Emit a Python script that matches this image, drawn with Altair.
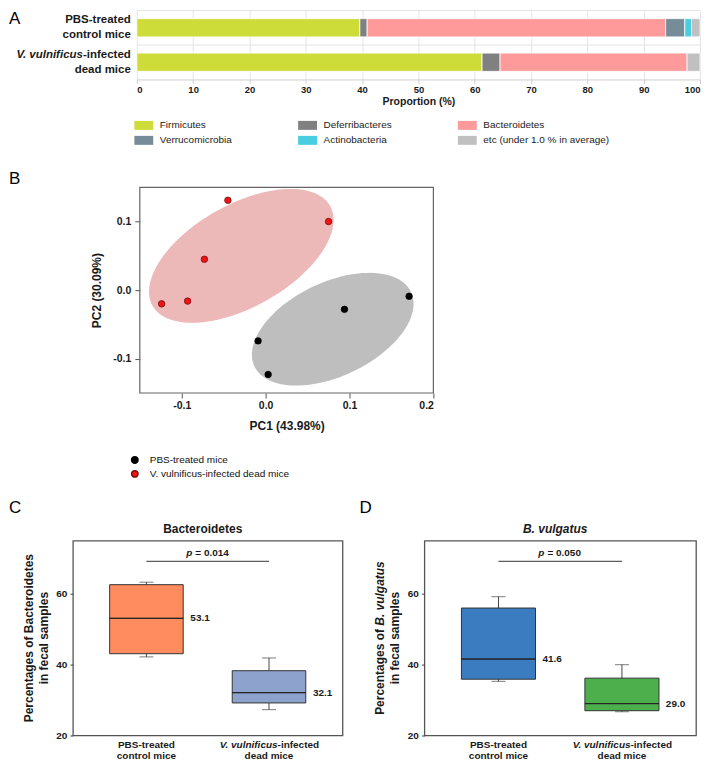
import altair as alt
import numpy as np
import pandas as pd

FONT = "Liberation Sans"
INK = "#1a1a1a"

# ---------------- Panel A : phylum composition ----------------
A_GROUPS = ["PBS-treated control mice", "V. vulnificus-infected dead mice"]
# stacking order along the bar
A_PHYLA = ["Firmicutes", "Deferribacteres", "Bacteroidetes",
           "Verrucomicrobia", "Actinobacteria", "etc (under 1.0 % in average)"]
A_COLORS = ["#CEDC3A", "#808080", "#FE9A9A", "#768D99", "#48CEE0", "#C0C0C0"]
A_PBS = [39.6, 1.3, 53.0, 3.4, 1.2, 1.5]
A_VV = [61.3, 3.2, 33.2, 0.0, 0.0, 2.3]
A_TICKS = [0, 10, 20, 30, 40, 50, 60, 70, 80, 90, 100]
# legend reading order (legend fills column by column, two rows)
A_LEGEND_ORDER = [0, 3, 1, 4, 2, 5]

# ---------------- Panel B : PCoA ----------------
B_GROUPS = ["PBS-treated mice", "V. vulnificus-infected dead mice"]
B_COLORS = ["#000000", "#F01414"]
B_EDGES = ["#000000", "#7A0A0A"]
B_PBS_PC1 = [0.171, 0.094, -0.009, 0.003]
B_PBS_PC2 = [-0.009, -0.028, -0.074, -0.123]
B_VV_PC1 = [-0.045, 0.075, -0.073, -0.093, -0.124]
B_VV_PC2 = [0.131, 0.100, 0.045, -0.016, -0.020]
B_XTICKS = [-0.1, 0.0, 0.1, 0.2]
B_YTICKS = [-0.1, 0.0, 0.1]
# group ellipses: centre (data units), semi-axes (screen px) and tilt (deg)
B_ELL_CX = [0.080, -0.029]
B_ELL_CY = [-0.057, 0.050]
B_ELL_A = [86.8, 102.0]
B_ELL_B = [47.0, 51.3]
B_ELL_ANGLE = [25.4, 29.3]
B_ELL_COLORS = ["#BEBEBE", "#EDB8B8"]

# ---------------- Panels C / D : box plots ----------------
BOX_CATS = ["PBS", "VV"]
C_LOW = [42.2, 27.3]
C_Q1 = [43.1, 29.2]
C_MED = [53.1, 32.1]
C_Q3 = [62.6, 38.3]
C_HIGH = [63.3, 41.9]
C_COLORS = ["#FF8C5E", "#8EA2CE"]
C_P = "0.014"

D_LOW = [35.3, 26.7]
D_Q1 = [35.9, 27.0]
D_MED = [41.6, 29.0]
D_Q3 = [56.0, 36.2]
D_HIGH = [59.2, 40.0]
D_COLORS = ["#3A7CBF", "#4CAF4C"]
D_P = "0.050"

P_LINE_Y = 69.2
BOX_YTICKS = [20, 30, 40, 50, 60, 70]

LETTER_X = -64  # panel letters sit at the left edge of the figure


def letter(ch, x, y):
    return alt.Chart(pd.DataFrame({"t": [ch]})).mark_text(
        align="left", baseline="top", font=FONT, fontSize=17, color="#000"
    ).encode(text="t:N", x=alt.value(x), y=alt.value(y))


# ======================= Panel A =======================
A_OFF, A_W, A_H = 64, 564, 69
rows = []
for g, vals in zip(A_GROUPS, [A_PBS, A_VV]):
    for k, (p, v) in enumerate(zip(A_PHYLA, vals)):
        rows.append({"group": g, "phylum": p, "value": v, "k": k})
a_df = pd.DataFrame(rows)
leg_dom = [A_PHYLA[i] for i in A_LEGEND_ORDER]
leg_rng = [A_COLORS[i] for i in A_LEGEND_ORDER]
a_xscale = alt.Scale(domain=[0, 100], nice=False, range=[A_OFF, A_OFF + A_W])

a_y_bars = alt.Y(
    "group:N", sort=A_GROUPS,
    scale=alt.Scale(paddingInner=0, paddingOuter=0),
    axis=alt.Axis(labels=False, title=None, grid=False, offset=-A_OFF,
                  domainColor="#CFCFCF", tickColor="#CFCFCF", tickSize=4),
)
a_y_txt = alt.Y("group:N", sort=A_GROUPS, axis=None)

a_grid = alt.Chart(pd.DataFrame({"group": A_GROUPS})).mark_rule(
    color="#E4E4E4", strokeWidth=1).encode(
    y=alt.Y("group:N", sort=A_GROUPS, axis=None, bandPosition=0),
    x=alt.datum(0, scale=a_xscale), x2=alt.datum(100))

a_bars = alt.Chart(a_df).transform_filter("datum.value > 0").mark_bar(
    height={"band": 0.53}, stroke="white", strokeWidth=0.8
).encode(
    x=alt.X("value:Q", stack="zero", scale=a_xscale,
            axis=alt.Axis(values=A_TICKS, grid=True, gridColor="#E4E4E4",
                          domainColor="#CFCFCF", tickColor="#CFCFCF", tickSize=4,
                          labelFont=FONT, labelFontSize=9.5, labelFontWeight="bold",
                          labelColor=INK, labelPadding=1,
                          title="Proportion (%)", titleFont=FONT, titleFontSize=10.5,
                          titleFontWeight="bold", titleColor=INK, titlePadding=3)),
    y=a_y_bars,
    color=alt.Color(
        "phylum:N",
        scale=alt.Scale(domain=leg_dom, range=leg_rng),
        legend=alt.Legend(title=None, orient="none", legendX=A_OFF + 2, legendY=110,
                          columns=3, columnPadding=65, rowPadding=5,
                          symbolType="M-2.1,-1L2.1,-1L2.1,1L-2.1,1Z",
                          symbolSize=81, symbolStrokeWidth=0,
                          labelFont=FONT, labelFontSize=10, labelColor="#222",
                          labelOffset=11, labelLimit=260),
    ),
    order=alt.Order("k:Q"),
)

a_lab_df1 = pd.DataFrame({"group": A_GROUPS, "t": ["PBS-treated", "-infected"]})
a_lab_df1i = pd.DataFrame({"group": [A_GROUPS[1]], "t": ["V. vulnificus"]})
a_lab_df2 = pd.DataFrame({"group": A_GROUPS, "t": ["control mice", "dead mice"]})
a_txt_style = dict(font=FONT, fontSize=11.5, fontWeight="bold", color=INK,
                   baseline="middle", align="right")
a_lab1 = alt.Chart(a_lab_df1).mark_text(dy=-7.5, **a_txt_style).encode(
    y=a_y_txt, x=alt.value(A_OFF - 6), text="t:N")
a_lab1i = alt.Chart(a_lab_df1i).mark_text(dy=-7.5, fontStyle="italic", **a_txt_style).encode(
    y=a_y_txt, x=alt.value(A_OFF - 54), text="t:N")
a_lab2 = alt.Chart(a_lab_df2).mark_text(dy=7.5, **a_txt_style).encode(
    y=a_y_txt, x=alt.value(A_OFF - 6), text="t:N")

panel_a = alt.layer(a_grid, a_bars, a_lab1, a_lab1i, a_lab2,
                    letter("A", LETTER_X, 0)).properties(
    width=A_OFF + A_W, height=A_H, view=alt.ViewBackground(stroke="transparent"))

# ======================= Panel B =======================
B_OFF, B_W, B_H = 67, 294, 206
B_XDOM = [-0.15, 0.2]
B_YDOM = [-0.15, 0.15]
pts = pd.DataFrame({
    "grp": [B_GROUPS[0]] * len(B_PBS_PC1) + [B_GROUPS[1]] * len(B_VV_PC1),
    "pc1": B_PBS_PC1 + B_VV_PC1,
    "pc2": B_PBS_PC2 + B_VV_PC2,
})

xs_per_px = (B_XDOM[1] - B_XDOM[0]) / B_W
ys_per_px = (B_YDOM[1] - B_YDOM[0]) / B_H
tt = np.linspace(0, 2 * np.pi, 121)[:-1]
ell_frames = []
for i in range(len(B_ELL_CX)):
    phi = np.deg2rad(B_ELL_ANGLE[i])
    dx = B_ELL_A[i] * np.cos(tt) * np.cos(phi) - B_ELL_B[i] * np.sin(tt) * np.sin(phi)
    dy = B_ELL_A[i] * np.cos(tt) * np.sin(phi) + B_ELL_B[i] * np.sin(tt) * np.cos(phi)
    ell_frames.append(pd.DataFrame({
        "i": np.arange(len(tt)),
        "ex": B_ELL_CX[i] + dx * xs_per_px,
        "ey": B_ELL_CY[i] + dy * ys_per_px,
    }))

b_xscale = alt.Scale(domain=B_XDOM, nice=False, zero=False, range=[B_OFF, B_OFF + B_W])
b_yscale = alt.Scale(domain=B_YDOM, nice=False, zero=False)
label_fix = "replace(datum.label, '\u2212', '-')"
b_x = alt.X("pc1:Q", scale=b_xscale,
            axis=alt.Axis(values=B_XTICKS, format=".1f", labelExpr=label_fix,
                          title="PC1 (43.98%)", grid=False, domain=False,
                          tickSize=5, tickColor="#555",
                          labelFont=FONT, labelFontSize=10.5, labelFontWeight="bold",
                          labelColor=INK, labelPadding=3,
                          titleFont=FONT, titleFontSize=12, titleFontWeight="bold",
                          titleColor=INK, titlePadding=9))
b_y = alt.Y("pc2:Q", scale=b_yscale,
            axis=alt.Axis(values=B_YTICKS, format=".1f", labelExpr=label_fix,
                          title="PC2 (30.09%)", grid=False, domain=False,
                          offset=-B_OFF, tickSize=5, tickColor="#555",
                          labelFont=FONT, labelFontSize=10.5, labelFontWeight="bold",
                          labelColor=INK, labelPadding=4,
                          titleFont=FONT, titleFontSize=12, titleFontWeight="bold",
                          titleColor=INK, titlePadding=9))

ell_layers = []
for i, fr in enumerate(ell_frames):
    ell_layers.append(
        alt.Chart(fr).mark_line(filled=True, color=B_ELL_COLORS[i],
                                interpolate="linear-closed", strokeWidth=0).encode(
            x=alt.X("ex:Q", scale=b_xscale),
            y=alt.Y("ey:Q", scale=b_yscale),
            order="i:Q",
        )
    )

b_frame = alt.Chart(pd.DataFrame({"k": [0]})).mark_rect(
    fill="transparent", stroke="#666", strokeWidth=1.2).encode(
    x=alt.datum(B_XDOM[0], scale=b_xscale), x2=alt.datum(B_XDOM[1]),
    y=alt.datum(B_YDOM[0], scale=b_yscale), y2=alt.datum(B_YDOM[1]))

b_pts = alt.Chart(pts).mark_point(filled=True, size=42, strokeWidth=0.8, opacity=1).encode(
    x=b_x, y=b_y,
    color=alt.Color("grp:N", scale=alt.Scale(domain=B_GROUPS, range=B_COLORS),
                    legend=alt.Legend(title=None, orient="none", legendX=B_OFF - 10,
                                      legendY=268,
                                      symbolType="circle", symbolSize=42,
                                      labelFont=FONT, labelFontSize=10, labelColor="#111",
                                      rowPadding=0, labelOffset=10, labelLimit=300)),
    stroke=alt.Stroke("grp:N", scale=alt.Scale(domain=B_GROUPS, range=B_EDGES), legend=None),
)

panel_b = alt.layer(*ell_layers, b_frame, b_pts, letter("B", LETTER_X, -16)).properties(
    width=B_OFF + B_W, height=B_H, view=alt.ViewBackground(stroke="transparent"))


# ======================= Panels C / D =======================
BOX_H = 195


def box_panel(let, let_x, title, title_style, low, q1, med, q3, high, colors, p_txt,
              ytitle_plain, ytitle_italic, width):
    df = pd.DataFrame({"grp": BOX_CATS, "low": low, "q1": q1, "med": med,
                       "q3": q3, "high": high})
    xscale = alt.Scale(domain=BOX_CATS, paddingInner=0.4, paddingOuter=0.3)
    xenc = alt.X("grp:N", sort=BOX_CATS, scale=xscale, axis=None)
    yscale = alt.Scale(domain=[20, 75], nice=False, zero=False)
    yaxis = alt.Axis(values=BOX_YTICKS, title=None, grid=False, domain=False,
                     tickSize=3, tickColor="#444", labelFont=FONT, labelFontSize=10,
                     labelFontWeight="bold", labelColor=INK, labelPadding=3)
    base = alt.Chart(df)
    wh_hi = base.mark_rule(color="#444", strokeWidth=1).encode(
        x=xenc, y=alt.Y("q3:Q", scale=yscale, axis=yaxis), y2="high:Q")
    wh_lo = base.mark_rule(color="#444", strokeWidth=1).encode(
        x=xenc, y=alt.Y("low:Q", scale=yscale), y2="q1:Q")
    cap_hi = base.mark_tick(color="#444", size=14, thickness=1).encode(
        x=xenc, y=alt.Y("high:Q", scale=yscale))
    cap_lo = base.mark_tick(color="#444", size=14, thickness=1).encode(
        x=xenc, y=alt.Y("low:Q", scale=yscale))
    boxes = base.mark_bar(stroke="#333", strokeWidth=1, opacity=1).encode(
        x=xenc, y=alt.Y("q1:Q", scale=yscale), y2="q3:Q",
        color=alt.Color("grp:N", scale=alt.Scale(domain=BOX_CATS, range=colors),
                        legend=None))
    med_line = base.mark_bar(fill="transparent", stroke="#222", strokeWidth=1).encode(
        x=xenc, y=alt.Y("med:Q", scale=yscale), y2=alt.Y2("med:Q"))
    med_txt = base.mark_text(align="left", baseline="middle", dx=44, font=FONT,
                             fontSize=10, fontWeight="bold", color=INK).encode(
        x=xenc, y=alt.Y("med:Q", scale=yscale), text=alt.Text("med:Q", format=".1f"))

    pdf = pd.DataFrame({"a": [BOX_CATS[0]], "b": [BOX_CATS[1]], "y": [P_LINE_Y],
                        "p": ["p"], "v": ["= " + p_txt]})
    xa = alt.X("a:N", sort=BOX_CATS, scale=xscale, axis=None, bandPosition=0.5)
    p_rule = alt.Chart(pdf).mark_rule(color="#333", strokeWidth=1).encode(
        x=xa, x2=alt.X2("b:N", bandPosition=0.5), y=alt.Y("y:Q", scale=yscale))
    p_it = alt.Chart(pdf).mark_text(align="right", baseline="middle", dx=46, dy=-8,
                                    font=FONT, fontSize=10, fontWeight="bold",
                                    fontStyle="italic", color=INK).encode(
        x=xa, y=alt.Y("y:Q", scale=yscale), text="p:N")
    p_val = alt.Chart(pdf).mark_text(align="left", baseline="middle", dx=49, dy=-8,
                                     font=FONT, fontSize=10, fontWeight="bold",
                                     color=INK).encode(
        x=xa, y=alt.Y("y:Q", scale=yscale), text="v:N")

    # x category labels (two lines, partly italic)
    xl_style = dict(font=FONT, fontSize=10, fontWeight="bold", color=INK,
                    baseline="middle")
    xl1 = alt.Chart(pd.DataFrame({"grp": [BOX_CATS[0]], "t": ["PBS-treated"]})).mark_text(
        align="center", **xl_style).encode(x=xenc, y=alt.value(BOX_H + 10), text="t:N")
    xl1b = alt.Chart(pd.DataFrame({"grp": [BOX_CATS[1]], "t": ["-infected"]})).mark_text(
        align="left", dx=8.6, **xl_style).encode(x=xenc, y=alt.value(BOX_H + 10), text="t:N")
    xl1i = alt.Chart(pd.DataFrame({"grp": [BOX_CATS[1]], "t": ["V. vulnificus"]})).mark_text(
        align="right", dx=8.6, fontStyle="italic", **xl_style).encode(
        x=xenc, y=alt.value(BOX_H + 10), text="t:N")
    xl2 = alt.Chart(pd.DataFrame({"grp": BOX_CATS, "t": ["control mice", "dead mice"]})).mark_text(
        align="center", **xl_style).encode(x=xenc, y=alt.value(BOX_H + 21), text="t:N")

    # y title (two lines, rotated, optionally partly italic)
    yt_style = dict(font=FONT, fontSize=12, fontWeight="bold", color=INK,
                    baseline="middle", angle=270)
    one = pd.DataFrame({"k": [0]})
    if ytitle_italic:
        split = BOX_H / 2 + 77 - 86.1
        yt1 = alt.Chart(one).mark_text(align="right", text=ytitle_plain, **yt_style).encode(
            x=alt.value(-44), y=alt.value(split))
        yt1i = alt.Chart(one).mark_text(align="left", text=ytitle_italic, fontStyle="italic",
                                        **yt_style).encode(
            x=alt.value(-44), y=alt.value(split - 3.3))
        ylayers = [yt1, yt1i]
    else:
        yt1 = alt.Chart(one).mark_text(align="center", text=ytitle_plain, **yt_style).encode(
            x=alt.value(-44), y=alt.value(BOX_H / 2))
        ylayers = [yt1]
    yt2 = alt.Chart(one).mark_text(align="center", text="in fecal samples", **yt_style).encode(
        x=alt.value(-29), y=alt.value(BOX_H / 2))

    # panel title as text (keeps the panel letter on top)
    ttl = alt.Chart(one).mark_text(align="center", baseline="middle", text=title,
                                   font=FONT, fontSize=12, fontWeight="bold",
                                   fontStyle=title_style, color=INK).encode(
        x=alt.value(width / 2 - 5), y=alt.value(-12))

    return alt.layer(
        wh_hi, wh_lo, cap_hi, cap_lo, boxes, med_line, med_txt,
        p_rule, p_it, p_val, xl1, xl1b, xl1i, xl2, *ylayers, yt2, ttl,
        letter(let, let_x, -41),
    ).properties(
        width=width, height=BOX_H,
        view=alt.ViewBackground(stroke="#555", strokeWidth=1.3),
    )


panel_c = box_panel("C", LETTER_X, "Bacteroidetes", "normal", C_LOW, C_Q1, C_MED, C_Q3,
                    C_HIGH, C_COLORS, C_P, "Percentages of Bacteroidetes", "", 270)
panel_d = box_panel("D", -65, "B. vulgatus", "italic", D_LOW, D_Q1, D_MED, D_Q3, D_HIGH,
                    D_COLORS, D_P, "Percentages of", "B. vulgatus", 272)

row_cd = alt.hconcat(panel_c, panel_d, spacing=15).resolve_scale(
    color="independent", x="independent", y="independent")

top_ab = alt.vconcat(panel_a, panel_b, spacing=23).resolve_scale(
    color="independent", x="independent", y="independent", stroke="independent")

chart = alt.vconcat(top_ab, row_cd, spacing=16).resolve_scale(
    color="independent", x="independent", y="independent", stroke="independent"
).properties(padding={"left": 0, "top": 0, "right": 0, "bottom": 0}).configure(
    font=FONT
)

chart.save("out.html", embed_options={"renderer": "svg", "actions": False})
